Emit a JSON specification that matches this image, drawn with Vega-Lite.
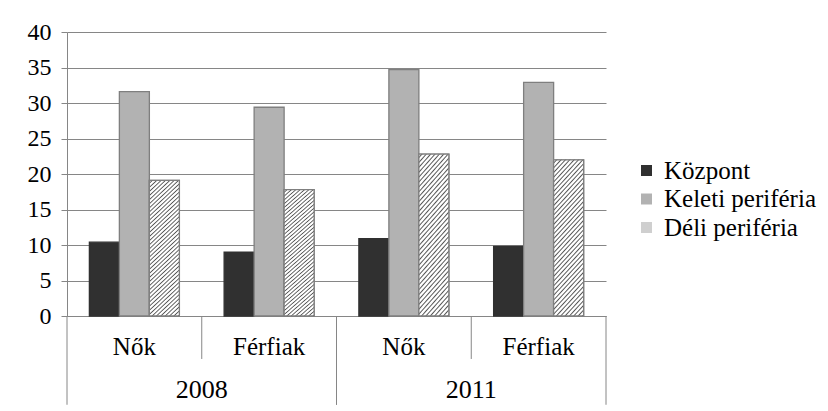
{
  "$schema": "https://vega.github.io/schema/vega-lite/v6.json",
  "autosize": {"type": "none"},
  "width": 539,
  "height": 284,
  "padding": {"left": 67, "top": 32, "right": 222, "bottom": 95},
  "background": "white",
  "config": {
    "font": "Liberation Serif",
    "view": {"stroke": null},
    "axis": {"labelFont": "Liberation Serif", "labelColor": "black", "domainColor": "#868686", "tickColor": "#868686", "gridColor": "#868686", "labelOverlap": false},
    "axisY": {"labelFontSize": 24, "labelPadding": 10, "tickSize": 6, "gridWidth": 1, "grid": true, "title": null, "values": [0, 5, 10, 15, 20, 25, 30, 35, 40]},
    "legend": {"labelFont": "Liberation Serif", "labelColor": "black"},
    "text": {"font": "Liberation Serif"}
  },
  "data": {
    "values": [
      {"cat": "2008|Nők", "year": "2008", "sex": "Nők", "series": "Központ", "value": 10.4},
      {"cat": "2008|Nők", "year": "2008", "sex": "Nők", "series": "Keleti periféria", "value": 31.6},
      {"cat": "2008|Nők", "year": "2008", "sex": "Nők", "series": "Déli periféria", "value": 19.1},
      {"cat": "2008|Férfiak", "year": "2008", "sex": "Férfiak", "series": "Központ", "value": 9.0},
      {"cat": "2008|Férfiak", "year": "2008", "sex": "Férfiak", "series": "Keleti periféria", "value": 29.4},
      {"cat": "2008|Férfiak", "year": "2008", "sex": "Férfiak", "series": "Déli periféria", "value": 17.8},
      {"cat": "2011|Nők", "year": "2011", "sex": "Nők", "series": "Központ", "value": 10.9},
      {"cat": "2011|Nők", "year": "2011", "sex": "Nők", "series": "Keleti periféria", "value": 34.7},
      {"cat": "2011|Nők", "year": "2011", "sex": "Nők", "series": "Déli periféria", "value": 22.8},
      {"cat": "2011|Férfiak", "year": "2011", "sex": "Férfiak", "series": "Központ", "value": 9.8},
      {"cat": "2011|Férfiak", "year": "2011", "sex": "Férfiak", "series": "Keleti periféria", "value": 32.9},
      {"cat": "2011|Férfiak", "year": "2011", "sex": "Férfiak", "series": "Déli periféria", "value": 22.0}
    ]
  },
  "layer": [
    {
      "mark": {"type": "bar", "strokeWidth": 1.3},
      "encoding": {
        "x": {
          "field": "cat", "type": "nominal",
          "scale": {"domain": ["2008|Nők", "2008|Férfiak", "2011|Nők", "2011|Férfiak"], "paddingInner": 0, "paddingOuter": 0},
          "axis": {"title": null, "labelExpr": "split(datum.label, '|')[1]", "labelAngle": 0, "ticks": false, "tickSize": 0, "labelPadding": 18, "labelFontSize": 25, "domainWidth": 1, "grid": false}
        },
        "xOffset": {
          "field": "series", "type": "nominal",
          "scale": {"domain": ["Központ", "Keleti periféria", "Déli periféria"], "paddingInner": 0, "paddingOuter": 0.746}
        },
        "y": {
          "field": "value", "type": "quantitative",
          "scale": {"domain": [0, 40], "nice": false, "zero": true},
          "axis": {"title": null, "values": [0, 5, 10, 15, 20, 25, 30, 35, 40], "grid": true}
        },
        "stroke": {
          "field": "series", "type": "nominal",
          "scale": {"domain": ["Központ", "Keleti periféria", "Déli periféria"], "range": ["#303030", "#7f7f7f", "#7f7f7f"]},
          "legend": null
        },
        "color": {
          "field": "series", "type": "nominal",
          "scale": {"domain": ["Központ", "Keleti periféria", "Déli periféria"], "range": ["#303030", "#b2b2b2", "#cfcfcf"]},
          "legend": {
            "orient": "none", "legendX": 567, "legendY": 126, "title": null,
            "labelFontSize": 25, "labelLimit": 300,
            "symbolType": "square", "symbolSize": 121, "symbolStrokeWidth": 0, "rowPadding": 2.5, "labelOffset": 5, "padding": 0,
            "encode": {
              "symbols": {
                "update": {
                  "fill": [
                    {"test": "datum.label === 'Déli periféria'", "value": {"gradient": "linear", "x1": 0, "y1": 0, "x2": 0.5, "y2": 0.5, "stops": [
                      {"offset": 0, "color": "#fff"}, {"offset": 0.1, "color": "#fff"}, {"offset": 0.16, "color": "#555"},
                      {"offset": 0.22, "color": "#fff"}, {"offset": 0.32, "color": "#fff"}, {"offset": 0.38, "color": "#555"},
                      {"offset": 0.44, "color": "#fff"}, {"offset": 0.54, "color": "#fff"}, {"offset": 0.6, "color": "#555"},
                      {"offset": 0.66, "color": "#fff"}, {"offset": 0.76, "color": "#fff"}, {"offset": 0.82, "color": "#555"},
                      {"offset": 0.88, "color": "#fff"}, {"offset": 0.96, "color": "#fff"}, {"offset": 1, "color": "#555"}
                    ]}},
                    {"scale": "color", "field": "value"}
                  ]
                }
              }
            }
          }
        }
      }
    },
    {
      "transform": [{"filter": "datum.series === 'Déli periféria'"}],
      "mark": {"type": "bar", "strokeWidth": 1.3, "stroke": "#7f7f7f",
        "fill": {"gradient": "linear", "x1": 0, "y1": 0, "x2": 0.241, "y2": 1.159, "stops": [
          {"offset": 0, "color": "#fff"}, {"offset": 0.01, "color": "#fff"}, {"offset": 0.0175, "color": "#555"},
          {"offset": 0.025, "color": "#fff"}, {"offset": 0.035, "color": "#fff"}, {"offset": 0.0425, "color": "#555"},
          {"offset": 0.05, "color": "#fff"}, {"offset": 0.06, "color": "#fff"}, {"offset": 0.0675, "color": "#555"},
          {"offset": 0.075, "color": "#fff"}, {"offset": 0.085, "color": "#fff"}, {"offset": 0.0925, "color": "#555"},
          {"offset": 0.1, "color": "#fff"}, {"offset": 0.11, "color": "#fff"}, {"offset": 0.1175, "color": "#555"},
          {"offset": 0.125, "color": "#fff"}, {"offset": 0.135, "color": "#fff"}, {"offset": 0.1425, "color": "#555"},
          {"offset": 0.15, "color": "#fff"}, {"offset": 0.16, "color": "#fff"}, {"offset": 0.1675, "color": "#555"},
          {"offset": 0.175, "color": "#fff"}, {"offset": 0.185, "color": "#fff"}, {"offset": 0.1925, "color": "#555"},
          {"offset": 0.2, "color": "#fff"}, {"offset": 0.21, "color": "#fff"}, {"offset": 0.2175, "color": "#555"},
          {"offset": 0.225, "color": "#fff"}, {"offset": 0.235, "color": "#fff"}, {"offset": 0.2425, "color": "#555"},
          {"offset": 0.25, "color": "#fff"}, {"offset": 0.26, "color": "#fff"}, {"offset": 0.2675, "color": "#555"},
          {"offset": 0.275, "color": "#fff"}, {"offset": 0.285, "color": "#fff"}, {"offset": 0.2925, "color": "#555"},
          {"offset": 0.3, "color": "#fff"}, {"offset": 0.31, "color": "#fff"}, {"offset": 0.3175, "color": "#555"},
          {"offset": 0.325, "color": "#fff"}, {"offset": 0.335, "color": "#fff"}, {"offset": 0.3425, "color": "#555"},
          {"offset": 0.35, "color": "#fff"}, {"offset": 0.36, "color": "#fff"}, {"offset": 0.3675, "color": "#555"},
          {"offset": 0.375, "color": "#fff"}, {"offset": 0.385, "color": "#fff"}, {"offset": 0.3925, "color": "#555"},
          {"offset": 0.4, "color": "#fff"}, {"offset": 0.41, "color": "#fff"}, {"offset": 0.4175, "color": "#555"},
          {"offset": 0.425, "color": "#fff"}, {"offset": 0.435, "color": "#fff"}, {"offset": 0.4425, "color": "#555"},
          {"offset": 0.45, "color": "#fff"}, {"offset": 0.46, "color": "#fff"}, {"offset": 0.4675, "color": "#555"},
          {"offset": 0.475, "color": "#fff"}, {"offset": 0.485, "color": "#fff"}, {"offset": 0.4925, "color": "#555"},
          {"offset": 0.5, "color": "#fff"}, {"offset": 0.51, "color": "#fff"}, {"offset": 0.5175, "color": "#555"},
          {"offset": 0.525, "color": "#fff"}, {"offset": 0.535, "color": "#fff"}, {"offset": 0.5425, "color": "#555"},
          {"offset": 0.55, "color": "#fff"}, {"offset": 0.56, "color": "#fff"}, {"offset": 0.5675, "color": "#555"},
          {"offset": 0.575, "color": "#fff"}, {"offset": 0.585, "color": "#fff"}, {"offset": 0.5925, "color": "#555"},
          {"offset": 0.6, "color": "#fff"}, {"offset": 0.61, "color": "#fff"}, {"offset": 0.6175, "color": "#555"},
          {"offset": 0.625, "color": "#fff"}, {"offset": 0.635, "color": "#fff"}, {"offset": 0.6425, "color": "#555"},
          {"offset": 0.65, "color": "#fff"}, {"offset": 0.66, "color": "#fff"}, {"offset": 0.6675, "color": "#555"},
          {"offset": 0.675, "color": "#fff"}, {"offset": 0.685, "color": "#fff"}, {"offset": 0.6925, "color": "#555"},
          {"offset": 0.7, "color": "#fff"}, {"offset": 0.71, "color": "#fff"}, {"offset": 0.7175, "color": "#555"},
          {"offset": 0.725, "color": "#fff"}, {"offset": 0.735, "color": "#fff"}, {"offset": 0.7425, "color": "#555"},
          {"offset": 0.75, "color": "#fff"}, {"offset": 0.76, "color": "#fff"}, {"offset": 0.7675, "color": "#555"},
          {"offset": 0.775, "color": "#fff"}, {"offset": 0.785, "color": "#fff"}, {"offset": 0.7925, "color": "#555"},
          {"offset": 0.8, "color": "#fff"}, {"offset": 0.81, "color": "#fff"}, {"offset": 0.8175, "color": "#555"},
          {"offset": 0.825, "color": "#fff"}, {"offset": 0.835, "color": "#fff"}, {"offset": 0.8425, "color": "#555"},
          {"offset": 0.85, "color": "#fff"}, {"offset": 0.86, "color": "#fff"}, {"offset": 0.8675, "color": "#555"},
          {"offset": 0.875, "color": "#fff"}, {"offset": 0.885, "color": "#fff"}, {"offset": 0.8925, "color": "#555"},
          {"offset": 0.9, "color": "#fff"}, {"offset": 0.91, "color": "#fff"}, {"offset": 0.9175, "color": "#555"},
          {"offset": 0.925, "color": "#fff"}, {"offset": 0.935, "color": "#fff"}, {"offset": 0.9425, "color": "#555"},
          {"offset": 0.95, "color": "#fff"}, {"offset": 0.96, "color": "#fff"}, {"offset": 0.9675, "color": "#555"},
          {"offset": 0.975, "color": "#fff"}, {"offset": 0.985, "color": "#fff"}, {"offset": 0.9925, "color": "#555"},
          {"offset": 1, "color": "#fff"}
        ]}},
      "encoding": {
        "x": {"field": "cat", "type": "nominal"},
        "xOffset": {"field": "series", "type": "nominal"},
        "y": {"field": "value", "type": "quantitative", "axis": {"title": null, "values": [0, 5, 10, 15, 20, 25, 30, 35, 40], "grid": true}}
      }
    },
    {
      "transform": [{"filter": "datum.sex === 'Nők' && datum.series === 'Központ'"}],
      "mark": {"type": "rule", "color": "#868686", "strokeWidth": 1},
      "encoding": {
        "x": {"field": "cat", "type": "nominal", "bandPosition": 0},
        "y": {"datum": 0, "type": "quantitative", "axis": {"title": null, "values": [0, 5, 10, 15, 20, 25, 30, 35, 40], "grid": true}},
        "y2": {"datum": -12.5}
      }
    },
    {
      "transform": [{"filter": "datum.sex === 'Férfiak' && datum.series === 'Központ'"}],
      "mark": {"type": "rule", "color": "#868686", "strokeWidth": 1},
      "encoding": {
        "x": {"field": "cat", "type": "nominal", "bandPosition": 0},
        "y": {"datum": 0, "type": "quantitative", "axis": {"title": null, "values": [0, 5, 10, 15, 20, 25, 30, 35, 40], "grid": true}},
        "y2": {"datum": -6.05}
      }
    },
    {
      "transform": [{"filter": "datum.sex === 'Férfiak' && datum.series === 'Központ'"}],
      "mark": {"type": "rule", "color": "#868686", "strokeWidth": 1},
      "encoding": {
        "x": {"field": "cat", "type": "nominal", "bandPosition": 1},
        "y": {"datum": 0, "type": "quantitative", "axis": {"title": null, "values": [0, 5, 10, 15, 20, 25, 30, 35, 40], "grid": true}},
        "y2": {"datum": -12.5}
      }
    },
    {
      "transform": [{"filter": "datum.sex === 'Nők' && datum.series === 'Központ'"}],
      "mark": {"type": "text", "fontSize": 26, "baseline": "alphabetic", "align": "center", "color": "black"},
      "encoding": {
        "x": {"field": "cat", "type": "nominal", "bandPosition": 1},
        "y": {"datum": -11.55, "type": "quantitative", "axis": {"title": null, "values": [0, 5, 10, 15, 20, 25, 30, 35, 40], "grid": true}},
        "text": {"field": "year"}
      }
    }
  ]
}
